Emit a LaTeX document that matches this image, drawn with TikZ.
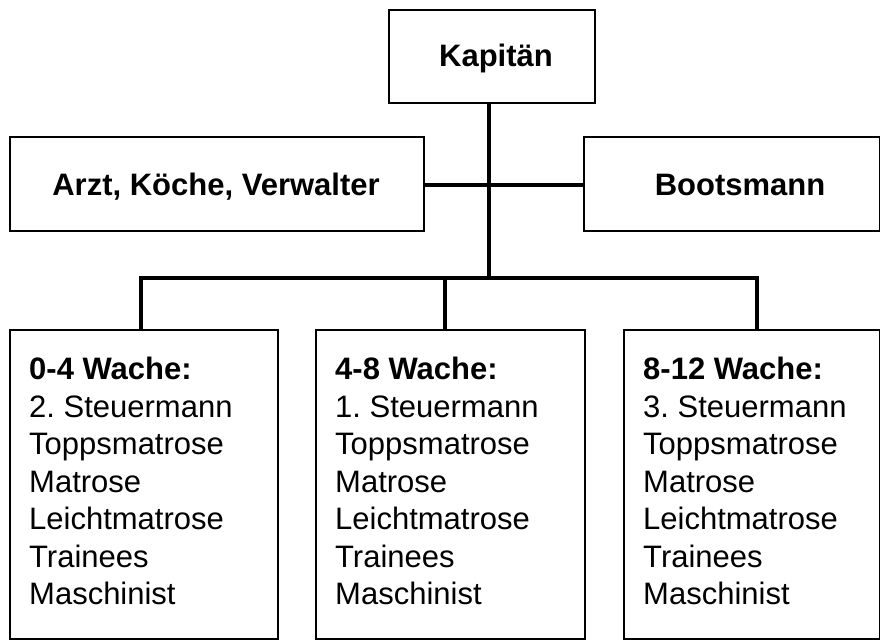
\documentclass[tikz,border=0pt]{standalone}
\usepackage{fontspec}
\setmainfont{Liberation Sans}
\frenchspacing
\begin{document}
\begin{tikzpicture}[x=1pt,y=-1pt,
  wbox/.style={draw=black,line width=2pt,rectangle,inner sep=0pt,anchor=north west},
  conn/.style={draw=black,line width=4pt},
  ttl/.style={font=\fontsize{31}{37.5}\selectfont\bfseries,inner sep=0pt,anchor=base},
  lst/.style={font=\fontsize{31}{37.5}\selectfont,align=left,anchor=north west,inner sep=0pt}]
\useasboundingbox (0,0) rectangle (880,641);
% top
\node[wbox,minimum width=206,minimum height=93] (kap) at (388,9) {};
\node[ttl] (kt) at (496,66) {Kapit\"an};
% middle
\node[wbox,minimum width=414,minimum height=94] (arzt) at (9,136) {};
\node[ttl] (at) at (216,195) {Arzt, K\"oche, Verwalter};
\node[wbox,minimum width=296,minimum height=94] (boots) at (583,136) {};
\node[ttl] (bt) at (740,195) {Bootsmann};
% bottom
\node[wbox,minimum width=268,minimum height=309] (b1) at (9,329) {};
\node[wbox,minimum width=269,minimum height=309] (b2) at (315,329) {};
\node[wbox,minimum width=256,minimum height=309] (b3) at (623,329) {};
\node[lst] (t1) at (29,357) {\textbf{0-4 Wache:}\\2. Steuermann\\Toppsmatrose\\Matrose\\Leichtmatrose\\Trainees\\Maschinist};
\node[lst] (t2) at (335,357) {\textbf{4-8 Wache:}\\1. Steuermann\\Toppsmatrose\\Matrose\\Leichtmatrose\\Trainees\\Maschinist};
\node[lst] (t3) at (643,357) {\textbf{8-12 Wache:}\\3. Steuermann\\Toppsmatrose\\Matrose\\Leichtmatrose\\Trainees\\Maschinist};
% junctions
\coordinate (j1) at (489,185);
\coordinate (j2) at (489,278);
\coordinate (v1) at (141,278);
\coordinate (v2) at (445,278);
\coordinate (v3) at (757,278);
% connectors
\draw[conn] (kap.south -| j2) -- (j2);
\draw[conn] (arzt.east |- j1) -- (boots.west |- j1);
\draw[conn,line cap=rect] (v1) -- (v3);
\draw[conn] (v1) -- (v1 |- b1.north);
\draw[conn] (v2) -- (v2 |- b2.north);
\draw[conn] (v3) -- (v3 |- b3.north);
\end{tikzpicture}
\end{document}
